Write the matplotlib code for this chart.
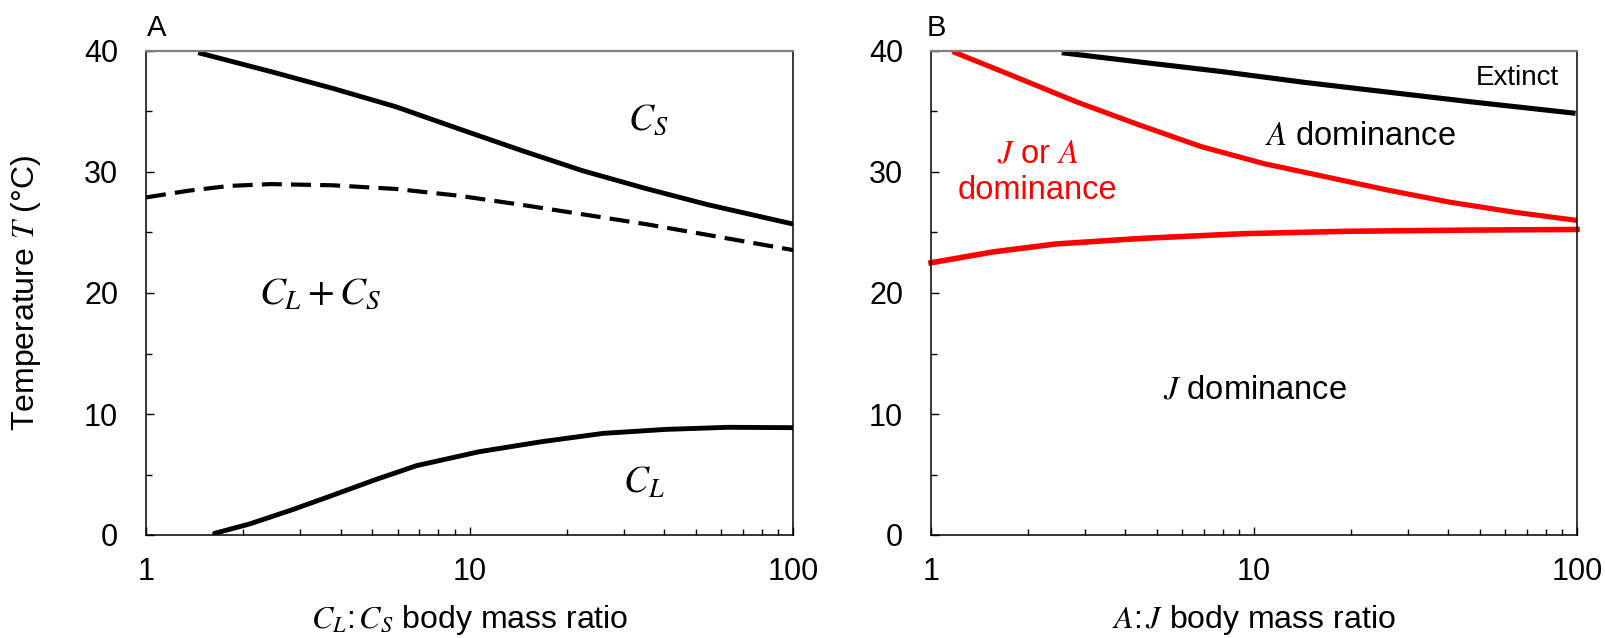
import numpy as np
import matplotlib.pyplot as plt

plt.rcParams['font.family'] = ['Liberation Sans', 'DejaVu Sans']
plt.rcParams['mathtext.fontset'] = 'stix'

# panel A: coexistence boundaries vs C_L:C_S body mass ratio
a_upper_x = [1.45, 2.43, 3.79, 5.91, 9.2, 14.4, 22.4, 34.9, 54.5, 100]
a_upper_t = [39.86, 38.3, 36.9, 35.4, 33.6, 31.8, 30.1, 28.65, 27.3, 25.7]

a_dash_x = [1, 1.35, 1.81, 2.43, 3.79, 5.91, 9.2, 14.4, 22.4, 34.9, 54.5, 100]
a_dash_t = [27.9, 28.45, 28.85, 29.0, 28.9, 28.6, 28.05, 27.3, 26.5, 25.7, 24.8, 23.55]

a_lower_x = [1.63, 2.09, 2.82, 3.79, 5.09, 6.86, 10.7, 16.7, 25.9, 40.6, 63, 100]
a_lower_t = [0.14, 0.91, 2.07, 3.3, 4.55, 5.73, 6.88, 7.71, 8.4, 8.73, 8.9, 8.87]

# panel B: stage dominance vs A:J body mass ratio
b_red_upper_x = [1.18, 1.81, 2.82, 4.4, 6.86, 10.7, 16.7, 26, 40.5, 63.1, 100]
b_red_upper_t = [39.9, 37.9, 35.8, 33.9, 32.1, 30.7, 29.6, 28.5, 27.5, 26.7, 26.0]

b_red_lower_x = [1, 1.56, 2.43, 4.4, 9.2, 19.3, 47, 100]
b_red_lower_t = [22.5, 23.4, 24.05, 24.5, 24.9, 25.1, 25.2, 25.25]

b_black_x = [2.54, 4.4, 7.94, 14.4, 26, 47, 99]
b_black_t = [39.86, 39.1, 38.3, 37.4, 36.6, 35.8, 34.85]

yticks = [0, 10, 20, 30, 40]
yminor = [5, 15, 25, 35]
xticks = [1, 10, 100]
xticklabels = ['1', '10', '100']

fig = plt.figure(figsize=(16.05, 6.38), dpi=100)
axA = fig.add_axes([146 / 1605, 103 / 638, 647 / 1605, 484 / 638])
axB = fig.add_axes([931 / 1605, 103 / 638, 646 / 1605, 484 / 638])

for ax in (axA, axB):
    ax.set_xscale('log')
    ax.set_xlim(1, 100)
    ax.set_ylim(0, 40)
    ax.set_xticks(xticks)
    ax.set_xticklabels(xticklabels)
    ax.set_yticks(yticks)
    ax.set_yticks(yminor, minor=True)
    ax.tick_params(axis='both', which='both', direction='in', labelsize=22)
    ax.tick_params(axis='both', which='major', length=6, width=1)
    ax.tick_params(axis='both', which='minor', length=4.5, width=1)
    ax.tick_params(axis='x', which='major', pad=16)
    ax.tick_params(axis='y', which='major', pad=20)
    for side in ('left', 'bottom', 'right'):
        ax.spines[side].set_color('black')
        ax.spines[side].set_linewidth(1.1)
    ax.spines['top'].set_color('#808080')
    ax.spines['top'].set_linewidth(1.6)

# --- A
axA.plot(a_upper_x, a_upper_t, color='black', lw=3.5, solid_capstyle='butt')
axA.plot(a_dash_x, a_dash_t, color='black', lw=3.0, dashes=(4.8, 2.2))
axA.plot(a_lower_x, a_lower_t, color='black', lw=3.5, solid_capstyle='round')
axA.text(35.6, 34.3, r'$C_S$', fontsize=27, ha='center', va='center')
axA.text(3.46, 19.9, r'$C_L + C_S$', fontsize=28, ha='center', va='center')
axA.text(34.6, 4.3, r'$C_L$', fontsize=27, ha='center', va='center')
axA.set_ylabel(r'Temperature $T$ (°C)', fontsize=23, va='center')
axA.yaxis.set_label_coords(-0.1855, 0.5)
axA.set_xlabel(r'$C_L$:$\,C_S$ body mass ratio', fontsize=23, va='center')
axA.xaxis.set_label_coords(0.5, -0.176)
fig.text(157 / 1605, 1 - 28 / 638, 'A', fontsize=21, ha='center', va='center')

# --- B
axB.plot(b_black_x, b_black_t, color='black', lw=3.7, solid_capstyle='butt')
axB.plot(b_red_upper_x, b_red_upper_t, color='red', lw=3.7, solid_capstyle='round')
axB.plot(b_red_lower_x, b_red_lower_t, color='red', lw=4.0, clip_on=False)
axB.text(65.2, 37.8, 'Extinct', fontsize=20, ha='center', va='center')
axB.text(21.3, 32.9, r'$A$ dominance', fontsize=23.5, ha='center', va='center')
axB.text(2.14, 31.5, r'$J$ or $A$', fontsize=23.5, color='red', ha='center', va='center')
axB.text(2.14, 28.5, 'dominance', fontsize=23.5, color='red', ha='center', va='center')
axB.text(10.07, 12.0, r'$J$ dominance', fontsize=23.5, ha='center', va='center')
axB.set_xlabel(r'$A$:$\,J$ body mass ratio', fontsize=23, va='center')
axB.xaxis.set_label_coords(0.5, -0.176)
fig.text(936 / 1605, 1 - 28 / 638, 'B', fontsize=21, ha='center', va='center')

fig.savefig('out.png', dpi=100)
